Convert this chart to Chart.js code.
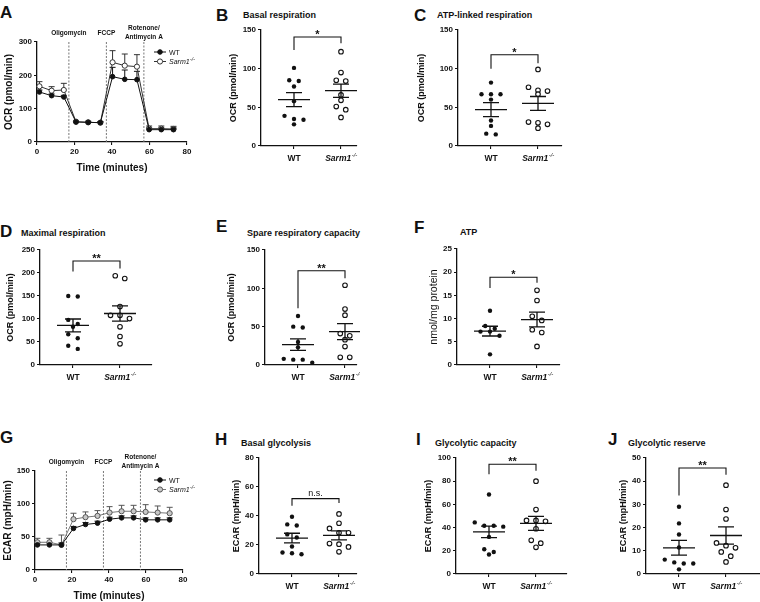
<!DOCTYPE html>
<html>
<head>
<meta charset="utf-8">
<script src="https://cdn.jsdelivr.net/npm/chart.js@4.4.1/dist/chart.umd.min.js"></script>
<style>
body{margin:0;background:#fff;width:760px;height:602px;position:relative;overflow:hidden;font-family:"Liberation Sans",Arial,sans-serif;color:#111}
canvas{position:absolute}
.lt{position:absolute;font-weight:bold;font-size:17px;line-height:17px;white-space:nowrap}
.tt{position:absolute;font-weight:bold;font-size:9px;line-height:10px;white-space:nowrap}
</style>
</head>
<body>
<script>
// ---------------- data ----------------
var TIME = [1.3, 7.8, 14.3, 20.8, 27.3, 33.8, 40.3, 46.8, 53.3, 59.8, 66.3, 72.8];
var INJECTIONS = [17, 37, 57];
var INJECTION_LABELS = [['Oligomycin'], ['FCCP'], ['Rotenone/', 'Antimycin A']];
var GROUPS = ['WT', 'Sarm1'];
var KO_SUP = '-/-';

// A - OCR time course
var OCR_WT = [150, 139, 135, 60, 59, 58, 196, 188, 187, 37, 37, 37];
var OCR_WT_ERR = [6, 5, 5, 3, 3, 3, 28, 28, 25, 5, 5, 5];
var OCR_KO = [167, 154, 156, 61, 59, 58, 239, 229, 226, 40, 40, 39];
var OCR_KO_ERR = [14, 12, 20, 3, 3, 3, 35, 35, 36, 8, 8, 8];

// G - ECAR time course
var ECAR_WT = [38, 38, 38, 63, 69, 71, 77, 79, 79, 76, 76, 76];
var ECAR_WT_ERR = [3, 3, 3, 3, 3, 3, 3, 3, 3, 3, 3, 3];
var ECAR_KO = [42, 42, 38, 77, 80, 82, 87, 89, 89, 88, 87, 86];
var ECAR_KO_ERR = [6, 6, 15, 9, 8, 8, 9, 9, 9, 11, 10, 9];

// B - basal respiration
var BASAL_WT = [101, 85, 84, 77, 58, 39, 35, 34, 28];
var BASAL_KO = [122, 95, 85, 84, 66, 59, 51, 47, 37];
var BASAL_MEAN = [60, 71.5], BASAL_SEM = [9, 8.5];
var BASAL_SIG = [141, 124, 133];

// C - ATP-linked respiration
var ATPL_WT = [82, 67, 67, 67, 60, 33, 26, 15, 16];
var ATPL_KO = [99, 76, 71, 72, 67, 30, 23, 31, 28];
var ATPL_MEAN = [47, 55], ATPL_SEM = [9, 9];
var ATPL_SIG = [118, 100, 107];

// D - maximal respiration
var MAX_WT = [149, 150, 98, 89, 83, 67, 58, 42, 35];
var MAX_KO = [188, 194, 127, 108, 108, 101, 83, 62, 46];
var MAX_MEAN = [86, 112], MAX_SEM = [14, 16.5];
var MAX_SIG = [226, 203, 210];

// E - spare respiratory capacity
var SPARE_WT = [64, 49, 50, 30, 23, 8, 7, 7, 3];
var SPARE_KO = [104, 73, 65, 41, 38, 33, 24, 10, 10];
var SPARE_MEAN = [26.5, 43.5], SPARE_SEM = [7.5, 10.5];
var SPARE_SIG = [123, 74, 113];

// F - ATP
var ATP_WT = [11.7, 8.4, 7.8, 7.2, 7.2, 6.3, 2.3];
var ATP_KO = [16.1, 13.9, 10.5, 9.6, 7.6, 7.0, 4.0];
var ATP_MEAN = [7.3, 9.8], ATP_SEM = [1.05, 1.6];
var ATP_SIG = [18.9, 16.6, 17.7];

// H - basal glycolysis
var GLYC_WT = [39.5, 33.5, 34.2, 27.3, 25.2, 19, 13.6, 14.8, 14.3];
var GLYC_KO = [41.4, 35, 31.4, 28.4, 28.4, 21, 20.6, 18.7, 15.3];
var GLYC_MEAN = [24.8, 26.6], GLYC_SEM = [3.3, 3.1];
var GLYC_SIG = [52, 47, 49];

// I - glycolytic capacity
var GCAP_WT = [68.5, 41.6, 41.6, 44.5, 40.8, 32, 21.4, 19, 16.8];
var GCAP_KO = [80, 55.5, 45.4, 46.2, 46.2, 39, 29, 26.6, 23];
var GCAP_MEAN = [36.3, 43.6], GCAP_SEM = [5, 6];
var GCAP_SIG = [94.6, 86, 89];

// J - glycolytic reserve
var GRES_WT = [29, 21.8, 17, 11.4, 6.2, 4.5, 5, 4.5, 2];
var GRES_KO = [38.3, 27.8, 23.7, 11.3, 12.2, 13.4, 9.5, 7.7, 5.2];
var GRES_MEAN = [11.3, 16.6], GRES_SEM = [3.2, 3.7];
var GRES_SIG = [45.7, 33.8, 42.8];

// ---------------- setup ----------------
var FONT = '"Liberation Sans", Arial, sans-serif';
var INK = '#111';
Chart.defaults.font.family = FONT;
Chart.defaults.color = INK;

function addText(txt, x, top, cls){
	var d = document.createElement('div');
	d.className = cls;
	d.style.left = x + 'px';
	d.style.top = top + 'px';
	d.textContent = txt;
	document.body.appendChild(d);
}
function letter(txt, x, cy){ addText(txt, x, cy - 8.3, 'lt'); }
function title(txt, x, cy){ addText(txt, x, cy - 4.9, 'tt'); }

function makeCanvas(r){
	var c = document.createElement('canvas');
	c.width = r[2]; c.height = r[3];
	c.style.left = r[0] + 'px'; c.style.top = r[1] + 'px';
	document.body.appendChild(c);
	return c.getContext('2d');
}

function drawKoLabel(c, x, y, size){
	c.font = 'italic bold ' + size + 'px ' + FONT;
	var w1 = c.measureText(GROUPS[1]).width;
	c.font = 'italic ' + (size * 0.7) + 'px ' + FONT;
	var w2 = c.measureText(KO_SUP).width;
	var x0 = x - (w1 + w2) / 2;
	c.textAlign = 'left';
	c.font = 'italic bold ' + size + 'px ' + FONT;
	c.fillText(GROUPS[1], x0, y);
	c.font = 'italic ' + (size * 0.7) + 'px ' + FONT;
	c.fillText(KO_SUP, x0 + w1 + 0.5, y - size * 0.4);
}

function yScale(p){
	var lh = p.tfont.size * 1.2;
	return {
		min: 0, max: p.max,
		ticks: {stepSize: p.step, font: {size: 8, weight: 'bold'}, color: INK, padding: 2},
		grid: {drawOnChartArea: false, tickLength: 3, color: INK, lineWidth: 1.1},
		border: {color: INK, width: 1.3},
		title: {display: true, text: p.ytitle, font: p.tfont, color: INK, padding: {top: p.tx - p.rect[0] - lh / 2, bottom: 0}},
		afterFit: function(s){ s.width = p.plot[0] - p.rect[0]; s.paddingTop = 0; s.paddingBottom = 0; }
	};
}

function layoutOf(p){
	return {autoPadding: false, padding: {left: 0, top: p.plot[1] - p.rect[1], right: p.rect[0] + p.rect[2] - p.plot[2], bottom: 0}};
}

// spread points of one column sideways like a scatter dot plot
var swarm = {
	id: 'swarm',
	afterDatasetsUpdate: function(chart){
		chart.data.datasets.forEach(function(ds, i){
			var pts = chart.getDatasetMeta(i).data.slice();
			pts.sort(function(a, b){ return a.y - b.y; });
			var k = 0;
			while (k < pts.length){
				var row = [pts[k]], j = k + 1;
				while (j < pts.length && pts[j].y - pts[k].y < 5){ row.push(pts[j]); j++; }
				row.forEach(function(pt, n){ pt.x += (n - (row.length - 1) / 2) * 9.5; });
				k = j;
			}
		});
	}
};

function dotPlot(p){
	var ctx = makeCanvas(p.rect);
	var xmin = 1 - 33 / 47, xmax = xmin + (p.plot[2] - p.plot[0]) / 47;
	var deco = {
		id: 'deco',
		afterDatasetsDraw: function(chart){
			var c = chart.ctx, xs = chart.scales.x, ys = chart.scales.y;
			c.save();
			c.strokeStyle = INK; c.lineWidth = 1.3;
			p.mean.forEach(function(m, i){
				var x = xs.getPixelForValue(i + 1), y = ys.getPixelForValue(m);
				var yh = ys.getPixelForValue(m + p.sem[i]), yl = ys.getPixelForValue(m - p.sem[i]);
				c.beginPath();
				c.moveTo(x - 16, y); c.lineTo(x + 16, y);
				c.moveTo(x, yh); c.lineTo(x, yl);
				c.moveTo(x - 8, yh); c.lineTo(x + 8, yh);
				c.moveTo(x - 8, yl); c.lineTo(x + 8, yl);
				c.stroke();
			});
			var b = p.sig, x1 = xs.getPixelForValue(1), x2 = xs.getPixelForValue(2), yt = ys.getPixelForValue(b[0]);
			c.lineWidth = 1.1;
			c.beginPath();
			c.moveTo(x1, ys.getPixelForValue(b[1])); c.lineTo(x1, yt); c.lineTo(x2, yt); c.lineTo(x2, ys.getPixelForValue(b[2]));
			c.stroke();
			c.fillStyle = INK; c.textAlign = 'center'; c.textBaseline = 'alphabetic';
			if (p.star === 'n.s.'){
				c.font = '9px ' + FONT;
				c.fillText(p.star, (x1 + x2) / 2, yt - 3);
			} else {
				c.font = 'bold 11px ' + FONT;
				c.fillText(p.star, (x1 + x2) / 2, yt + 1);
			}
			var ly = chart.chartArea.bottom + 14.5;
			c.font = 'bold 8.5px ' + FONT;
			c.fillText(GROUPS[0], x1, ly);
			drawKoLabel(c, x2, ly, 8.5);
			c.restore();
		}
	};
	new Chart(ctx, {
		type: 'scatter',
		data: {datasets: [
			{data: p.wt.map(function(v){ return {x: 1, y: v}; }), pointRadius: 2.2, pointBackgroundColor: INK, pointBorderColor: INK, pointBorderWidth: 0, clip: false},
			{data: p.ko.map(function(v){ return {x: 2, y: v}; }), pointRadius: 2.3, pointBackgroundColor: '#fff', pointBorderColor: INK, pointBorderWidth: 1.1, clip: false}
		]},
		options: {
			responsive: false, animation: false, devicePixelRatio: 1,
			layout: layoutOf(p),
			plugins: {legend: {display: false}, tooltip: {enabled: false}},
			scales: {
				x: {
					type: 'linear', min: xmin, max: xmax, bounds: 'data',
					afterBuildTicks: function(s){ s.ticks = [{value: 1}, {value: 2}]; },
					ticks: {callback: function(){ return ''; }},
					grid: {drawOnChartArea: false, tickLength: 3, color: INK, lineWidth: 1.1},
					border: {color: INK, width: 1.3},
					afterFit: function(s){ s.height = p.rect[1] + p.rect[3] - p.plot[3]; s.paddingLeft = 0; s.paddingRight = 0; }
				},
				y: yScale(p)
			}
		},
		plugins: [swarm, deco]
	});
}

function timeCourse(p){
	var ctx = makeCanvas(p.rect);
	var styles = [
		{line: INK, fill: INK, edge: INK, r: 2.3},
		{line: p.koLine, fill: p.koFill, edge: p.koEdge, r: 2.6}
	];
	var series = [[p.wt, p.wtErr], [p.ko, p.koErr]];
	var extras = {
		id: 'extras',
		beforeDatasetsDraw: function(chart){
			var c = chart.ctx, xs = chart.scales.x, ys = chart.scales.y, a = chart.chartArea;
			c.save();
			// injection markers
			c.strokeStyle = '#777'; c.lineWidth = 1; c.setLineDash([2, 1.5]);
			INJECTIONS.forEach(function(t){
				var x = xs.getPixelForValue(t);
				c.beginPath(); c.moveTo(x, a.top); c.lineTo(x, a.bottom); c.stroke();
			});
			c.setLineDash([]);
			c.fillStyle = INK; c.textAlign = 'center'; c.textBaseline = 'middle';
			c.font = 'bold 6.5px ' + FONT;
			INJECTIONS.forEach(function(t, i){
				var x = xs.getPixelForValue(t), lines = INJECTION_LABELS[i];
				if (lines.length === 1) c.fillText(lines[0], x, a.top - 9);
				else { c.fillText(lines[0], x, a.top - 13.5); c.fillText(lines[1], x, a.top - 4.5); }
			});
			// upper error bars
			series.forEach(function(s, k){
				c.strokeStyle = k ? p.koEdge : INK; c.lineWidth = 1;
				s[0].forEach(function(v, i){
					var x = xs.getPixelForValue(TIME[i]), y1 = ys.getPixelForValue(v), y2 = ys.getPixelForValue(v + s[1][i]);
					c.beginPath();
					c.moveTo(x, y1); c.lineTo(x, y2);
					c.moveTo(x - 3, y2); c.lineTo(x + 3, y2);
					c.stroke();
				});
			});
			c.restore();
		},
		afterDraw: function(chart){
			var c = chart.ctx, a = chart.chartArea;
			c.save();
			var x0 = a.right - p.legDx;
			styles.forEach(function(st, i){
				var y = a.top + p.legDy + i * 9.5;
				c.strokeStyle = st.line; c.lineWidth = 1;
				c.beginPath(); c.moveTo(x0 - 6, y); c.lineTo(x0 + 6, y); c.stroke();
				c.beginPath(); c.arc(x0, y, st.r, 0, Math.PI * 2);
				c.fillStyle = st.fill; c.fill();
				c.strokeStyle = st.edge; c.stroke();
				c.fillStyle = INK; c.textBaseline = 'alphabetic';
				if (i === 0){
					c.font = '7px ' + FONT; c.textAlign = 'left';
					c.fillText(GROUPS[0], x0 + 9, y + 2.5);
				} else {
					c.font = 'italic 7px ' + FONT; c.textAlign = 'left';
					var w = c.measureText(GROUPS[1]).width;
					c.fillText(GROUPS[1], x0 + 9, y + 2.5);
					c.font = 'italic 5px ' + FONT;
					c.fillText(KO_SUP, x0 + 9.5 + w, y - 0.5);
				}
			});
			c.restore();
		}
	};
	new Chart(ctx, {
		type: 'line',
		data: {datasets: series.map(function(s, k){
			var st = styles[k];
			return {
				data: TIME.map(function(t, i){ return {x: t, y: s[0][i]}; }),
				borderColor: st.line, borderWidth: 1, pointRadius: st.r,
				pointBackgroundColor: st.fill, pointBorderColor: st.edge, pointBorderWidth: 1,
				clip: false, order: k ? 1 : 0
			};
		})},
		options: {
			responsive: false, animation: false, devicePixelRatio: 1,
			layout: layoutOf(p),
			plugins: {legend: {display: false}, tooltip: {enabled: false}},
			scales: {
				x: {
					type: 'linear', min: 0, max: 80,
					ticks: {stepSize: 20, font: {size: 8, weight: 'bold'}, color: INK, padding: 2, maxRotation: 0},
					grid: {drawOnChartArea: false, tickLength: 3, color: INK, lineWidth: 1.1},
					border: {color: INK, width: 1.3},
					title: {display: true, text: 'Time (minutes)', font: {size: 10, weight: 'bold'}, color: INK, padding: {top: 0, bottom: p.xtPad}},
					afterFit: function(s){ s.height = p.rect[1] + p.rect[3] - p.plot[3]; s.paddingLeft = 0; s.paddingRight = 0; }
				},
				y: yScale(p)
			}
		},
		plugins: [extras]
	});
}

// ---------------- panels ----------------
var T10 = {size: 10, weight: 'bold'}, T9 = {size: 9, weight: 'bold'}, T10n = {size: 10.5};

letter('A', 0, 12);
timeCourse({rect: [0, 20, 200, 160], plot: [37, 42, 187, 142], max: 300, step: 100, ytitle: 'OCR (pmol/min)', tfont: T10, tx: 9, xtPad: 6,
	wt: OCR_WT, wtErr: OCR_WT_ERR, ko: OCR_KO, koErr: OCR_KO_ERR, koLine: '#333', koFill: '#fff', koEdge: '#333', legDx: 27, legDy: 10});

letter('B', 216, 15); title('Basal respiration', 243, 15);
dotPlot({rect: [220, 22, 140, 146], plot: [261, 30, 357, 146], max: 150, step: 50, ytitle: 'OCR (pmol/min)', tfont: T9, tx: 234,
	wt: BASAL_WT, ko: BASAL_KO, mean: BASAL_MEAN, sem: BASAL_SEM, sig: BASAL_SIG, star: '*'});

letter('C', 414, 15); title('ATP-linked respiration', 437, 15);
dotPlot({rect: [400, 22, 165, 146], plot: [458, 30, 562, 146], max: 150, step: 50, ytitle: 'OCR (pmol/min)', tfont: T9, tx: 422,
	wt: ATPL_WT, ko: ATPL_KO, mean: ATPL_MEAN, sem: ATPL_SEM, sig: ATPL_SIG, star: '*'});

letter('D', 0, 231); title('Maximal respiration', 21, 233);
dotPlot({rect: [0, 242, 160, 145], plot: [40, 250, 152, 365], max: 250, step: 50, ytitle: 'OCR (pmol/min)', tfont: T9, tx: 11,
	wt: MAX_WT, ko: MAX_KO, mean: MAX_MEAN, sem: MAX_SEM, sig: MAX_SIG, star: '**'});

letter('E', 216, 226); title('Spare respiratory capacity', 247, 233);
dotPlot({rect: [220, 242, 140, 145], plot: [265, 250, 357, 365], max: 150, step: 50, ytitle: 'OCR (pmol/min)', tfont: T9, tx: 232,
	wt: SPARE_WT, ko: SPARE_KO, mean: SPARE_MEAN, sem: SPARE_SEM, sig: SPARE_SIG, star: '**'});

letter('F', 414, 227); title('ATP', 460, 232);
dotPlot({rect: [405, 242, 160, 145], plot: [457, 249, 560, 365], max: 25, step: 5, ytitle: 'nmol/mg protein', tfont: T10n, tx: 434,
	wt: ATP_WT, ko: ATP_KO, mean: ATP_MEAN, sem: ATP_SEM, sig: ATP_SIG, star: '*'});

letter('G', 0, 437);
timeCourse({rect: [0, 445, 200, 157], plot: [35, 471, 183, 570], max: 150, step: 50, ytitle: 'ECAR (mpH/min)', tfont: T10, tx: 8, xtPad: 0,
	wt: ECAR_WT, wtErr: ECAR_WT_ERR, ko: ECAR_KO, koErr: ECAR_KO_ERR, koLine: '#777', koFill: '#c8c8c8', koEdge: '#555', legDx: 23, legDy: 9});

letter('H', 215, 439); title('Basal glycolysis', 241, 443);
dotPlot({rect: [220, 450, 140, 150], plot: [259, 458, 357, 574], max: 80, step: 20, ytitle: 'ECAR (mpH/min)', tfont: T9, tx: 237,
	wt: GLYC_WT, ko: GLYC_KO, mean: GLYC_MEAN, sem: GLYC_SEM, sig: GLYC_SIG, star: 'n.s.'});

letter('I', 416, 439); title('Glycolytic capacity', 435, 443);
dotPlot({rect: [405, 450, 165, 150], plot: [456, 458, 567, 574], max: 100, step: 20, ytitle: 'ECAR (mpH/min)', tfont: T9, tx: 429,
	wt: GCAP_WT, ko: GCAP_KO, mean: GCAP_MEAN, sem: GCAP_SEM, sig: GCAP_SIG, star: '**'});

letter('J', 608, 439); title('Glycolytic reserve', 628, 443);
dotPlot({rect: [598, 450, 162, 150], plot: [646, 458, 760, 574], max: 50, step: 10, ytitle: 'ECAR (mpH/min)', tfont: T9, tx: 624,
	wt: GRES_WT, ko: GRES_KO, mean: GRES_MEAN, sem: GRES_SEM, sig: GRES_SIG, star: '**'});
</script>
</body>
</html>
